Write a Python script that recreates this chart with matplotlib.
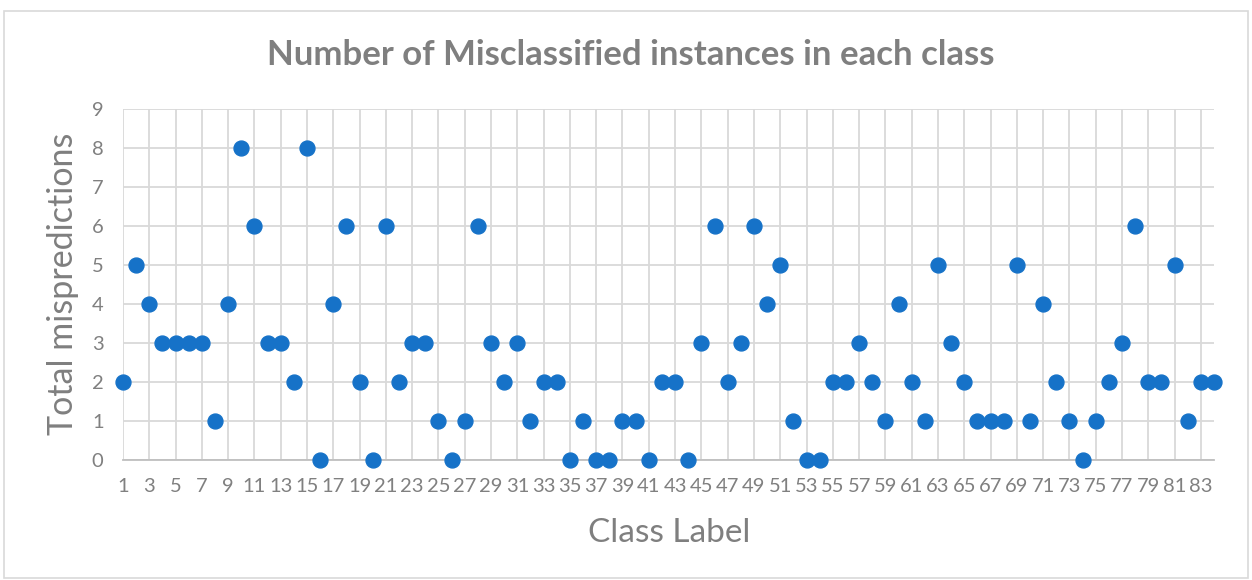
import matplotlib
matplotlib.use("Agg")
import matplotlib.pyplot as plt
from matplotlib.patches import Rectangle

plt.rcParams["font.family"] = ["Lato", "DejaVu Sans"]

# Class labels 1..84 and number of misclassified instances per class
class_labels = list(range(1, 85))
mispredictions = [
    2, 5, 4, 3, 3, 3, 3, 1, 4, 8,
    6, 3, 3, 2, 8, 0, 4, 6, 2, 0,
    6, 2, 3, 3, 1, 0, 1, 6, 3, 2,
    3, 1, 2, 2, 0, 1, 0, 0, 1, 1,
    0, 2, 2, 0, 3, 6, 2, 3, 6, 4,
    5, 1, 0, 0, 2, 2, 3, 2, 1, 4,
    2, 1, 5, 3, 2, 1, 1, 1, 5, 1,
    4, 2, 1, 0, 1, 2, 3, 6, 2, 2,
    5, 1, 2, 2,
]
x_ticks = list(range(1, 85, 2))
y_ticks = list(range(0, 10))

TEXT = "#7F7F7F"
TICK = "#808080"
GRID = "#D9D9D9"
BLUE = "#1672C8"

fig = plt.figure(figsize=(12.52, 5.8), dpi=100)
fig.patches.append(Rectangle((0.003, 0.003), 0.994, 0.978, transform=fig.transFigure,
                             fill=False, edgecolor=GRID, lw=1.2))
ax = fig.add_axes([123 / 1252, 1 - 460 / 580, (1214 - 123) / 1252, (460 - 109) / 580])

ax.scatter(class_labels, mispredictions, s=115, color=BLUE, zorder=3, clip_on=False)

ax.set_xlim(1, 84)
ax.set_ylim(0, 9)
ax.set_xticks(x_ticks)
ax.set_yticks(y_ticks)
ax.grid(True, color=GRID, lw=1.3)
ax.set_axisbelow(True)
for s in ["top", "right", "left"]:
    ax.spines[s].set_visible(False)
ax.spines["bottom"].set_color("#BFBFBF")
ax.spines["bottom"].set_linewidth(1.3)
ax.tick_params(length=0, labelsize=14.5, colors=TICK)
ax.tick_params(axis="x", pad=13)
ax.tick_params(axis="y", pad=14)

fig.text(0.504, 1 - 55 / 580, "Number of Misclassified instances in each class",
         fontsize=25, fontweight="bold", color=TEXT, ha="center", va="center")
fig.text(669 / 1252, 1 - 533 / 580, "Class Label", fontsize=24, color=TEXT,
         ha="center", va="center")
fig.text(63 / 1252, 1 - 284 / 580, "Total mispredictions", fontsize=24.5, color=TEXT,
         ha="center", va="center", rotation=90)

fig.savefig("out.png", dpi=100)
